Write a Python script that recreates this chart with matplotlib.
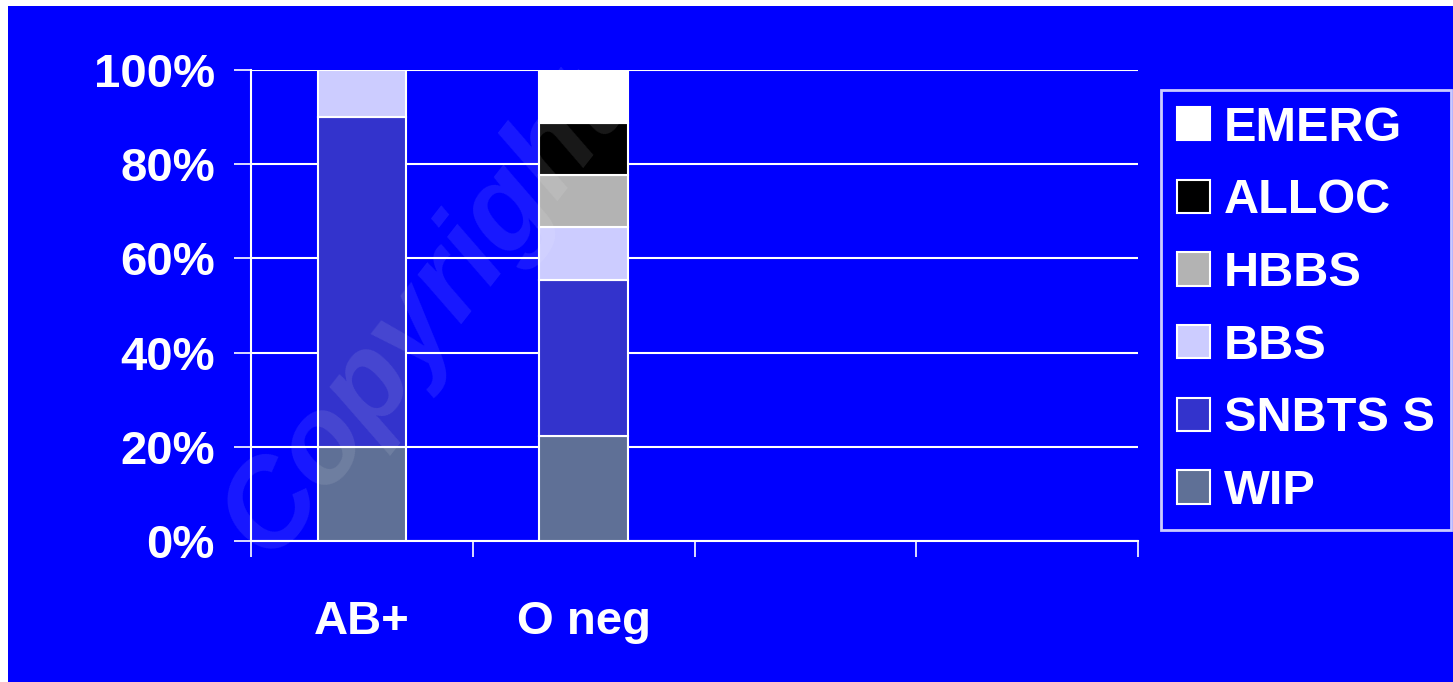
import numpy as np
import matplotlib.pyplot as plt
from matplotlib.patches import Rectangle

# data
categories = ["AB+", "O neg", "", ""]
series = ["WIP", "SNBTS S", "BBS", "HBBS", "ALLOC", "EMERG"]
values = {
	"WIP":     [20.0, 22.2, 0, 0],
	"SNBTS S": [70.0, 33.3, 0, 0],
	"BBS":     [10.0, 11.1, 0, 0],
	"HBBS":    [0.0, 11.1, 0, 0],
	"ALLOC":   [0.0, 11.1, 0, 0],
	"EMERG":   [0.0, 11.2, 0, 0],
}
colors = {
	"WIP": "#5f7096",
	"SNBTS S": "#3333cc",
	"BBS": "#ccccff",
	"HBBS": "#b3b3b3",
	"ALLOC": "#000000",
	"EMERG": "#ffffff",
}
yticks = [0, 20, 40, 60, 80, 100]

blue = "#0000ff"
plt.rcParams['font.family'] = ['Liberation Sans', 'DejaVu Sans']
plt.rcParams['font.weight'] = 'bold'

W, H = 1453, 682
fig = plt.figure(figsize=(W / 100, H / 100), dpi=100)
fig.patch.set_facecolor("white")
fig.patches.append(Rectangle((8 / W, 0), 1 - 8 / W, 1 - 6 / H, transform=fig.transFigure,
							 facecolor=blue, edgecolor="none", zorder=-5))

ax = fig.add_axes([251 / W, 141 / H, 887 / W, 471 / H])
ax.set_facecolor("none")

x = np.arange(len(categories))
bottom = np.zeros(len(categories))
handles = []
for s in series:
	v = np.array(values[s])
	b = ax.bar(x, v, 0.4, bottom=bottom, color=colors[s], edgecolor="white",
			   linewidth=1.5, zorder=3)
	# empty segments would leave a white outline sliver
	for rect, h in zip(b.patches, v):
		if h == 0:
			rect.set_visible(False)
	handles.append(Rectangle((0, 0), 1, 1, facecolor=colors[s], edgecolor="white", linewidth=1.5))
	bottom += v

ax.set_xlim(-0.5, len(categories) - 0.5)
ax.set_ylim(0, 100)
ax.set_yticks(yticks)
ax.set_yticklabels([f"{t}%" for t in yticks], fontsize=34, color="white", fontweight="bold")
ax.yaxis.grid(True, color="white", linewidth=1.5, zorder=1)
ax.set_axisbelow(True)

# category boundaries as ticks, labels at centres
ax.set_xticks(np.arange(-0.5, len(categories)))
ax.set_xticklabels([])
ax.tick_params(axis="x", length=11.5, width=1.2, color="white", direction="out")
ax.tick_params(axis="y", length=12, width=1.2, color="white", pad=14)
for xi, c in zip(x, categories):
	ax.text(xi, -17.3, c, ha="center", va="center",
			fontsize=34, color="white", fontweight="bold", clip_on=False)

for side in ["top", "right"]:
	ax.spines[side].set_visible(False)
for side in ["left", "bottom"]:
	ax.spines[side].set_color("white")
	ax.spines[side].set_linewidth(1.5)

leg = fig.legend(handles[::-1], series[::-1], loc="upper left",
				 bbox_to_anchor=(1161 / W, 1 - 90 / H), borderaxespad=0,
				 fontsize=35, frameon=True, fancybox=False, facecolor=blue,
				 edgecolor="white", handlelength=0.68, handleheight=0.68,
				 handletextpad=0.3, labelspacing=0.57, borderpad=0.32)
leg.get_frame().set_linewidth(2)
for t in leg.get_texts():
	t.set_color("white")
	t.set_fontweight("bold")

# faint watermark over the plot
fig.text(290 / W, 105 / H, "Copyright", rotation=52, fontsize=88, style="italic",
		 color="white", alpha=0.1, ha="left", va="bottom", rotation_mode="anchor", zorder=10)

fig.savefig("out.png", dpi=100, facecolor=fig.get_facecolor())
